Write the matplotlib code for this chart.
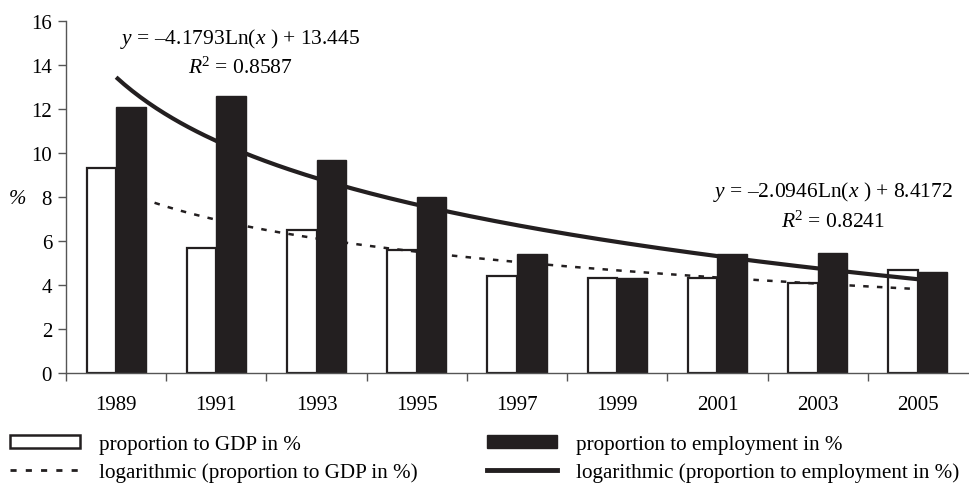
import numpy as np
import matplotlib
matplotlib.use("Agg")
import matplotlib.pyplot as plt
from matplotlib.patches import Patch
from matplotlib.lines import Line2D

plt.rcParams['font.family'] = ['Liberation Serif', 'DejaVu Serif']
plt.rcParams['mathtext.fontset'] = 'custom'
plt.rcParams['mathtext.rm'] = 'Liberation Serif'
plt.rcParams['mathtext.it'] = 'Liberation Serif:italic'

years = ["1989", "1991", "1993", "1995", "1997", "1999", "2001", "2003", "2005"]
gdp = [9.3, 5.7, 6.5, 5.6, 4.4, 4.3, 4.3, 4.1, 4.7]
employment = [12.1, 12.6, 9.7, 8.0, 5.4, 4.3, 5.4, 5.45, 4.6]

# logarithmic trendline coefficients (as printed on the chart)
emp_a, emp_b, emp_r2 = -4.1793, 13.445, 0.8587
gdp_a, gdp_b, gdp_r2 = -2.0946, 8.4172, 0.8241

INK = '#231f20'
fig = plt.figure(figsize=(9.69, 4.85), dpi=100)
ax = fig.add_axes([66/969, 1-374/485, (968-66)/969, (374-22)/485])

n = len(years)
x = np.arange(n)
w = 0.295
ax.bar(x - w/2, gdp, width=w, color='white', edgecolor=INK, linewidth=1.6, zorder=2)
ax.bar(x + w/2, employment, width=w, color=INK, edgecolor=INK, linewidth=1.0, zorder=2)

t = np.linspace(1, n, 200)
ax.plot(t - 1, gdp_a*np.log(t) + gdp_b, color=INK, lw=1.8, linestyle=(0, (2.2, 3.3)), zorder=3)
ax.plot(t - 1, emp_a*np.log(t) + emp_b, color=INK, lw=3.0, zorder=4, solid_capstyle='butt')

ax.set_xlim(-0.5, n - 0.5)
ax.set_ylim(0, 16)
ax.set_yticks(range(0, 17, 2))
ax.set_xticks([-0.5 + k for k in range(n)], minor=False)
ax.set_xticklabels([''] * n, minor=False)
ax.set_xticks(x, minor=True)
ax.set_xticklabels(years, minor=True)
ax.tick_params(axis='x', which='major', length=6, direction='out', color='#555555', width=1)
ax.tick_params(axis='x', which='minor', length=0, pad=16, labelsize=15)
ax.tick_params(axis='y', length=6, direction='out', color='#555555', width=1, pad=4, labelsize=15)

for s in ['top', 'right']:
    ax.spines[s].set_visible(False)
for s in ['left', 'bottom']:
    ax.spines[s].set_color('#555555')
    ax.spines[s].set_linewidth(1)

fig.text(18/969, 1-200/485, '%', fontsize=15, style='italic', ha='center', va='center')

ax.text(1.24, 15.23, r'$y$ = –4.1793Ln($x$ ) + 13.445', fontsize=15.5, ha='center', va='center')
ax.text(1.24, 13.9, r'$R$$^{2}$ = 0.8587', fontsize=15.5, ha='center', va='center')
ax.text(7.15, 8.27, r'$y$ = –2.0946Ln($x$ ) + 8.4172', fontsize=15.5, ha='center', va='center')
ax.text(7.15, 6.9, r'$R$$^{2}$ = 0.8241', fontsize=15.5, ha='center', va='center')

h_gdp = Patch(facecolor='white', edgecolor=INK, linewidth=1.8)
h_gdp_t = Line2D([], [], color=INK, lw=2.0, linestyle=(0, (2.2, 3.3)))
h_emp = Patch(facecolor=INK, edgecolor=INK)
h_emp_t = Line2D([], [], color=INK, lw=3.5)

common = dict(loc='upper left', frameon=False, fontsize=15.2, handlelength=3.3,
              handleheight=0.6, labelspacing=0.38, handletextpad=0.9,
              borderpad=0, borderaxespad=0)
leg1 = fig.legend([h_gdp, h_gdp_t],
                  ['proportion to GDP in %', 'logarithmic (proportion to GDP in %)'],
                  bbox_to_anchor=(10/969, 1-436/485), **common)
leg2 = fig.legend([h_emp, h_emp_t],
                  ['proportion to employment in %', 'logarithmic (proportion to employment in %)'],
                  bbox_to_anchor=(487/969, 1-436/485), **common)

fig.savefig('out.png', dpi=100)
